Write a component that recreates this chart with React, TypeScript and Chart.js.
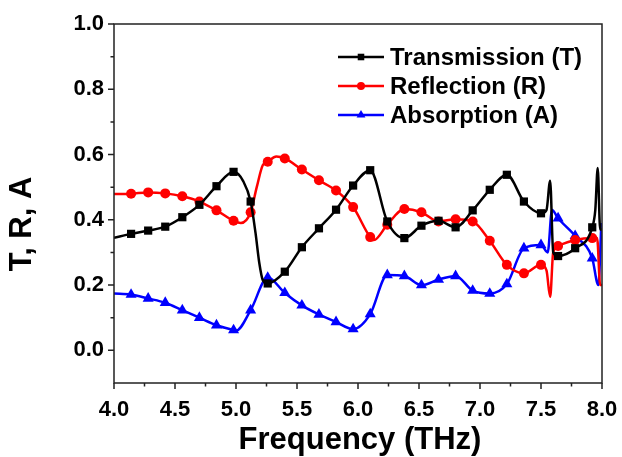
import React, { useEffect, useRef } from "react";
import { Chart, registerables } from "chart.js";

Chart.register(...registerables);

// ---- data ----
const xTicks = [4.0, 4.5, 5.0, 5.5, 6.0, 6.5, 7.0, 7.5, 8.0];
const yTicks = [0.0, 0.2, 0.4, 0.6, 0.8, 1.0];

const seriesLabels = ["Transmission (T)", "Reflection (R)", "Absorption (A)"];
const seriesColors = ["#000000", "#ff0000", "#0000ff"];

// frequencies (THz) where the plotted symbols sit
const markerFreq = [
  4.14, 4.28, 4.42, 4.56, 4.7, 4.84, 4.98, 5.12, 5.26, 5.4, 5.54, 5.68, 5.82, 5.96,
  6.1, 6.24, 6.38, 6.52, 6.66, 6.8, 6.94, 7.08, 7.22, 7.36, 7.5, 7.64, 7.78, 7.92,
];

// Transmission (T)
const transAtMarkers = [
  0.357, 0.367, 0.379, 0.408, 0.446, 0.503, 0.547, 0.456, 0.205, 0.241, 0.316, 0.374, 0.431, 0.505,
  0.552, 0.395, 0.344, 0.382, 0.397, 0.377, 0.429, 0.492, 0.538, 0.456, 0.42, 0.289, 0.313, 0.377,
];
const transExtraFreq = [4.0, 5.06, 5.16, 5.19, 5.22, 7.545, 7.575, 7.6, 7.945, 7.965, 7.985, 8.0];
const transExtraVal = [0.345, 0.518, 0.36, 0.27, 0.215, 0.43, 0.52, 0.3, 0.43, 0.559, 0.37, 0.37];

// Reflection (R)
const reflAtMarkers = [
  0.48, 0.484, 0.481, 0.472, 0.456, 0.429, 0.397, 0.423, 0.578, 0.588, 0.554, 0.521, 0.49, 0.439,
  0.347, 0.385, 0.433, 0.423, 0.395, 0.402, 0.395, 0.336, 0.262, 0.236, 0.262, 0.32, 0.338, 0.344,
];
const reflExtraFreq = [4.0, 5.04, 5.17, 5.22, 5.33, 6.13, 7.545, 7.575, 7.6, 7.96, 7.985, 8.0];
const reflExtraVal = [0.479, 0.39, 0.5, 0.568, 0.594, 0.338, 0.245, 0.164, 0.3, 0.344, 0.2, 0.2];

// Absorption (A)
const absAtMarkers = [
  0.171, 0.159, 0.146, 0.123, 0.1, 0.077, 0.062, 0.123, 0.223, 0.176, 0.138, 0.11, 0.087, 0.065,
  0.111, 0.231, 0.228, 0.2, 0.217, 0.228, 0.183, 0.174, 0.203, 0.313, 0.323, 0.405, 0.351, 0.282,
];
const absExtraFreq = [4.0, 5.0, 7.555, 7.59, 7.97, 7.995];
const absExtraVal = [0.174, 0.06, 0.3, 0.43, 0.2, 0.39];

const xTitle = "Frequency (THz)";
const yTitle = "T, R, A";

// ---- helpers ----
type Pt = { x: number; y: number; m: boolean };

function buildPoints(mv: number[], ef: number[], ev: number[]): Pt[] {
  const pts: Pt[] = markerFreq.map((f, i) => ({ x: f, y: mv[i], m: true }));
  ef.forEach((f, i) => pts.push({ x: f, y: ev[i], m: false }));
  pts.sort((a, b) => a.x - b.x);
  return pts;
}

const FONT = "'Liberation Sans', Arial, Helvetica, sans-serif";
const pointStyles = ["rect", "circle", "triangle"];
const pointRadii = [5.8, 5, 6.4];

function drawMarker(ctx: CanvasRenderingContext2D, style: string, x: number, y: number, r: number) {
  ctx.beginPath();
  if (style === "rect") {
    const s = r * Math.SQRT1_2;
    ctx.rect(x - s, y - s, 2 * s, 2 * s);
  } else if (style === "circle") {
    ctx.arc(x, y, r, 0, Math.PI * 2);
  } else {
    for (let k = 0; k < 3; k++) {
      const ang = -Math.PI / 2 + (k * 2 * Math.PI) / 3;
      const px = x + r * Math.cos(ang);
      const py = y + r * Math.sin(ang);
      if (k === 0) ctx.moveTo(px, py);
      else ctx.lineTo(px, py);
    }
    ctx.closePath();
  }
  ctx.fill();
}

const decorPlugin = {
  id: "decor",
  afterDraw(chart: any) {
    const { ctx, chartArea: a, scales } = chart;
    const xs = scales.x;
    const ys = scales.y;
    ctx.save();
    // frame
    ctx.strokeStyle = "#222";
    ctx.lineWidth = 1.5;
    ctx.strokeRect(a.left, a.top, a.right - a.left, a.bottom - a.top);

    // ticks
    ctx.beginPath();
    xTicks.forEach((v, i) => {
      const px = xs.getPixelForValue(v);
      ctx.moveTo(px, a.bottom);
      ctx.lineTo(px, a.bottom + 6);
      if (i < xTicks.length - 1) {
        const mp = xs.getPixelForValue((v + xTicks[i + 1]) / 2);
        ctx.moveTo(mp, a.bottom);
        ctx.lineTo(mp, a.bottom + 3.5);
      }
    });
    yTicks.forEach((v, i) => {
      const py = ys.getPixelForValue(v);
      ctx.moveTo(a.left, py);
      ctx.lineTo(a.left - 6, py);
      if (i < yTicks.length - 1) {
        const mp = ys.getPixelForValue((v + yTicks[i + 1]) / 2);
        ctx.moveTo(a.left, mp);
        ctx.lineTo(a.left - 3.5, mp);
      }
    });
    ctx.stroke();

    // axis titles
    ctx.fillStyle = "#000";
    ctx.font = `bold 31px ${FONT}`;
    ctx.textAlign = "center";
    ctx.textBaseline = "alphabetic";
    ctx.fillText(xTitle, (a.left + a.right) / 2 + 2, 449);
    ctx.save();
    ctx.translate(22, 224);
    ctx.rotate(-Math.PI / 2);
    ctx.textBaseline = "middle";
    ctx.fillText(yTitle, 0, 0);
    ctx.restore();

    // legend
    const lx0 = a.left + 224;
    const lx1 = a.left + 270;
    ctx.font = `bold 24px ${FONT}`;
    ctx.textAlign = "left";
    ctx.textBaseline = "middle";
    seriesLabels.forEach((lab, i) => {
      const ly = a.top + 33 + i * 29;
      ctx.strokeStyle = seriesColors[i];
      ctx.fillStyle = seriesColors[i];
      ctx.lineWidth = 2.5;
      ctx.beginPath();
      ctx.moveTo(lx0, ly);
      ctx.lineTo(lx1, ly);
      ctx.stroke();
      drawMarker(ctx, pointStyles[i], (lx0 + lx1) / 2, ly, pointRadii[i] * 0.8);
      ctx.fillStyle = "#000";
      ctx.fillText(lab, lx1 + 6, ly + 1);
    });
    ctx.restore();
  },
};

export default function App() {
  const ref = useRef<HTMLCanvasElement | null>(null);

  useEffect(() => {
    if (!ref.current) return;
    const data = [
      buildPoints(transAtMarkers, transExtraFreq, transExtraVal),
      buildPoints(reflAtMarkers, reflExtraFreq, reflExtraVal),
      buildPoints(absAtMarkers, absExtraFreq, absExtraVal),
    ];
    const chart = new Chart(ref.current, {
      type: "line",
      data: {
        datasets: data.map((pts, i) => ({
          label: seriesLabels[i],
          data: pts as any,
          borderColor: seriesColors[i],
          backgroundColor: seriesColors[i],
          borderWidth: 2.5,
          cubicInterpolationMode: "monotone" as const,
          pointStyle: pointStyles[i] as any,
          pointRadius: (c: any) => (c.raw && c.raw.m ? pointRadii[i] : 0),
          pointBorderWidth: 0,
          pointBackgroundColor: seriesColors[i],
          fill: false,
        })),
      },
      options: {
        responsive: false,
        animation: false,
        events: [],
        layout: { padding: { top: 24, right: 20, left: 0, bottom: 0 } },
        plugins: { legend: { display: false }, tooltip: { enabled: false } },
        scales: {
          x: {
            type: "linear",
            min: 4,
            max: 8,
            afterBuildTicks: (s: any) => {
              s.ticks = xTicks.map((v) => ({ value: v }));
            },
            afterFit: (s: any) => {
              s.height = 74;
              s.paddingLeft = 0;
              s.paddingRight = 0;
            },
            grid: { display: false, drawTicks: false },
            border: { display: false },
            ticks: {
              autoSkip: false,
              maxRotation: 0,
              padding: 14,
              color: "#000",
              font: { family: FONT, size: 22, weight: "bold" },
              callback: (v: any) => Number(v).toFixed(1),
            },
          },
          y: {
            type: "linear",
            min: -0.1,
            max: 1.0,
            afterBuildTicks: (s: any) => {
              s.ticks = yTicks.map((v) => ({ value: v }));
            },
            afterFit: (s: any) => {
              s.width = 114;
              s.paddingTop = 0;
              s.paddingBottom = 0;
            },
            grid: { display: false, drawTicks: false },
            border: { display: false },
            ticks: {
              padding: 10,
              color: "#000",
              font: { family: FONT, size: 22, weight: "bold" },
              callback: (v: any) => Number(v).toFixed(1),
            },
          },
        },
      },
      plugins: [decorPlugin],
    });
    return () => chart.destroy();
  }, []);

  return (
    <div style={{ position: "fixed", left: 0, top: 0, width: 622, height: 457, background: "#fff" }}>
      <canvas ref={ref} width={622} height={457} style={{ width: 622, height: 457, display: "block" }} />
    </div>
  );
}
